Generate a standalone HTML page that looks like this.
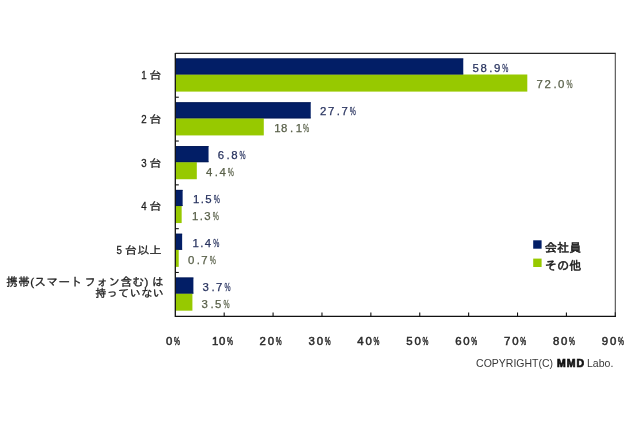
<!DOCTYPE html>
<html lang="ja"><head><meta charset="utf-8"><title>chart</title>
<style>
html,body{margin:0;padding:0;background:#fff;}
body{width:640px;height:426px;overflow:hidden;position:relative;}
svg{position:absolute;left:0;top:0;display:block;}
.num{font-family:"Liberation Sans","IPAGothic",sans-serif;font-size:11.4px;}
.cat{font-family:"Liberation Sans","IPAGothic","Noto Sans CJK JP",sans-serif;font-size:12px;fill:#1c1c1c;stroke:#1c1c1c;stroke-width:0.3px;}
.dg{font-size:11.4px;}
.leg{font-family:"Liberation Sans","IPAGothic","Noto Sans CJK JP",sans-serif;font-size:12.2px;fill:#1c1c1c;stroke:#1c1c1c;stroke-width:0.5px;}
.ax{fill:#2b2b2b;stroke:#2b2b2b;stroke-width:0.5px;}
.nv{fill:#28335f;stroke:#28335f;stroke-width:0.25px;}
.gr{fill:#596049;stroke:#596049;stroke-width:0.25px;}
.cp{font-family:"Liberation Sans",sans-serif;font-size:10.5px;fill:#383838;}
.mmd{font-family:"Liberation Sans",sans-serif;font-weight:bold;font-size:10.5px;fill:#111;stroke:#111;stroke-width:0.7px;letter-spacing:1.1px;}
</style></head><body>
<svg width="640" height="426" viewBox="0 0 640 426">
<rect x="0" y="0" width="640" height="426" fill="#ffffff"/>
<rect x="175.30" y="58.50" width="287.96" height="16.00" fill="#021e66"/>
<rect x="175.30" y="74.50" width="352.00" height="17.10" fill="#97c900"/>
<path d="M175.30 58.90 h287.96 M175.30 74.10 h287.96" stroke="#011750" stroke-width="0.8" fill="none"/>
<text class="num nv" x="472.46 480.56 489.36 493.96" y="71.60">58.9</text><text class="num nv" transform="translate(502.36 71.60) scale(0.6 1)">%</text>
<text class="num gr" x="536.50 544.60 553.40 558.00" y="88.45">72.0</text><text class="num gr" transform="translate(566.40 88.45) scale(0.6 1)">%</text>
<text class="cat dg" transform="translate(141.30 78.91) scale(0.85 1)">1</text>
<text class="cat" transform="translate(161.8 78.91) scale(1 0.9)" text-anchor="end" style="letter-spacing:0.3px">台</text>
<rect x="175.30" y="102.32" width="135.42" height="16.00" fill="#021e66"/>
<rect x="175.30" y="118.32" width="88.49" height="17.10" fill="#97c900"/>
<path d="M175.30 102.72 h135.42 M175.30 117.92 h135.42" stroke="#011750" stroke-width="0.8" fill="none"/>
<text class="num nv" x="319.92 328.02 336.82 341.42" y="115.42">27.7</text><text class="num nv" transform="translate(349.82 115.42) scale(0.6 1)">%</text>
<text class="num gr" x="274.19 281.09 289.89 295.69" y="132.27">18.1</text><text class="num gr" transform="translate(302.89 132.27) scale(0.6 1)">%</text>
<text class="cat dg" transform="translate(141.30 122.72) scale(0.85 1)">2</text>
<text class="cat" transform="translate(161.8 122.72) scale(1 0.9)" text-anchor="end" style="letter-spacing:0.3px">台</text>
<rect x="175.30" y="146.13" width="33.24" height="16.00" fill="#021e66"/>
<rect x="175.30" y="162.13" width="21.51" height="17.10" fill="#97c900"/>
<path d="M175.30 146.53 h33.24 M175.30 161.73 h33.24" stroke="#011750" stroke-width="0.8" fill="none"/>
<text class="num nv" x="217.74 226.54 231.14" y="159.23">6.8</text><text class="num nv" transform="translate(239.54 159.23) scale(0.6 1)">%</text>
<text class="num gr" x="206.01 214.81 219.41" y="176.08">4.4</text><text class="num gr" transform="translate(227.81 176.08) scale(0.6 1)">%</text>
<text class="cat dg" transform="translate(141.30 166.54) scale(0.85 1)">3</text>
<text class="cat" transform="translate(161.8 166.54) scale(1 0.9)" text-anchor="end" style="letter-spacing:0.3px">台</text>
<rect x="175.30" y="189.95" width="7.33" height="16.00" fill="#021e66"/>
<rect x="175.30" y="205.95" width="6.36" height="17.10" fill="#97c900"/>
<path d="M175.30 190.35 h7.33 M175.30 205.55 h7.33" stroke="#011750" stroke-width="0.8" fill="none"/>
<text class="num nv" x="193.03 200.63 205.23" y="203.05">1.5</text><text class="num nv" transform="translate(213.63 203.05) scale(0.6 1)">%</text>
<text class="num gr" x="192.06 199.66 204.26" y="219.90">1.3</text><text class="num gr" transform="translate(212.66 219.90) scale(0.6 1)">%</text>
<text class="cat dg" transform="translate(141.30 210.36) scale(0.85 1)">4</text>
<text class="cat" transform="translate(161.8 210.36) scale(1 0.9)" text-anchor="end" style="letter-spacing:0.3px">台</text>
<rect x="175.30" y="233.77" width="6.84" height="16.00" fill="#021e66"/>
<rect x="175.30" y="249.77" width="3.42" height="17.10" fill="#97c900"/>
<path d="M175.30 234.17 h6.84 M175.30 249.37 h6.84" stroke="#011750" stroke-width="0.8" fill="none"/>
<text class="num nv" x="192.54 200.14 204.74" y="246.87">1.4</text><text class="num nv" transform="translate(213.14 246.87) scale(0.6 1)">%</text>
<text class="num gr" x="187.92 196.72 201.32" y="263.72">0.7</text><text class="num gr" transform="translate(209.72 263.72) scale(0.6 1)">%</text>
<text class="cat dg" transform="translate(116.60 254.18) scale(0.85 1)">5</text>
<text class="cat" transform="translate(161.8 254.18) scale(1 0.9)" text-anchor="end" style="letter-spacing:0.3px">台以上</text>
<rect x="175.30" y="277.58" width="18.09" height="16.00" fill="#021e66"/>
<rect x="175.30" y="293.58" width="17.11" height="17.10" fill="#97c900"/>
<path d="M175.30 277.98 h18.09 M175.30 293.18 h18.09" stroke="#011750" stroke-width="0.8" fill="none"/>
<text class="num nv" x="202.59 211.39 215.99" y="290.68">3.7</text><text class="num nv" transform="translate(224.39 290.68) scale(0.6 1)">%</text>
<text class="num gr" x="201.61 210.41 215.01" y="307.53">3.5</text><text class="num gr" transform="translate(223.41 307.53) scale(0.6 1)">%</text>
<text class="cat" x="163.9" y="285.9" text-anchor="end" style="font-size:11.5px;letter-spacing:0.5px;word-spacing:-1.6px">携帯(スマート フォン含む)<tspan dx="3">は</tspan></text>
<text class="cat" x="164.2" y="297.3" text-anchor="end" style="font-size:11px;letter-spacing:0.5px">持っていない</text>
<path d="M175.30 53.40 H615.80" fill="none" stroke="#262626" stroke-width="1.1"/>
<path d="M615.30 53.40 V316.30" fill="none" stroke="#444" stroke-width="1.05"/>
<path d="M615.30 312.30 V316.90" fill="none" stroke="#222" stroke-width="1.1"/>
<path d="M175.30 52.90 V316.30 H615.90" fill="none" stroke="#111" stroke-width="1.3"/>
<path d="M175.30 97.22 h3.5" stroke="#111" stroke-width="1.1"/>
<path d="M175.30 141.03 h3.5" stroke="#111" stroke-width="1.1"/>
<path d="M175.30 184.85 h3.5" stroke="#111" stroke-width="1.1"/>
<path d="M175.30 228.67 h3.5" stroke="#111" stroke-width="1.1"/>
<path d="M175.30 272.48 h3.5" stroke="#111" stroke-width="1.1"/>
<text class="num ax" x="165.90" y="344.50">0</text><text class="num ax" transform="translate(173.90 344.50) scale(0.58 1)">%</text>
<path d="M224.19 316.30 v-3.8" stroke="#111" stroke-width="1.1"/>
<text class="num ax" x="211.89 218.89" y="344.50">10</text><text class="num ax" transform="translate(226.89 344.50) scale(0.58 1)">%</text>
<path d="M273.08 316.30 v-3.8" stroke="#111" stroke-width="1.1"/>
<text class="num ax" x="259.58 267.78" y="344.50">20</text><text class="num ax" transform="translate(275.78 344.50) scale(0.58 1)">%</text>
<path d="M321.97 316.30 v-3.8" stroke="#111" stroke-width="1.1"/>
<text class="num ax" x="308.47 316.67" y="344.50">30</text><text class="num ax" transform="translate(324.67 344.50) scale(0.58 1)">%</text>
<path d="M370.86 316.30 v-3.8" stroke="#111" stroke-width="1.1"/>
<text class="num ax" x="357.36 365.56" y="344.50">40</text><text class="num ax" transform="translate(373.56 344.50) scale(0.58 1)">%</text>
<path d="M419.74 316.30 v-3.8" stroke="#111" stroke-width="1.1"/>
<text class="num ax" x="406.24 414.44" y="344.50">50</text><text class="num ax" transform="translate(422.44 344.50) scale(0.58 1)">%</text>
<path d="M468.63 316.30 v-3.8" stroke="#111" stroke-width="1.1"/>
<text class="num ax" x="455.13 463.33" y="344.50">60</text><text class="num ax" transform="translate(471.33 344.50) scale(0.58 1)">%</text>
<path d="M517.52 316.30 v-3.8" stroke="#111" stroke-width="1.1"/>
<text class="num ax" x="504.02 512.22" y="344.50">70</text><text class="num ax" transform="translate(520.22 344.50) scale(0.58 1)">%</text>
<path d="M566.41 316.30 v-3.8" stroke="#111" stroke-width="1.1"/>
<text class="num ax" x="552.91 561.11" y="344.50">80</text><text class="num ax" transform="translate(569.11 344.50) scale(0.58 1)">%</text>
<text class="num ax" x="601.80 610.00" y="344.50">90</text><text class="num ax" transform="translate(618.00 344.50) scale(0.58 1)">%</text>
<rect x="533.2" y="240.3" width="8.4" height="8.4" fill="#021e66"/>
<rect x="533.2" y="258.6" width="8.4" height="8.4" fill="#97c900"/>
<text class="leg" x="544.8" y="251.5">会社員</text>
<text class="leg" x="544.8" y="269.5">その他</text>
<text class="cp" x="476.1" y="366.9">COPYRIGHT(C) <tspan class="mmd" dx="0.9">MMD</tspan><tspan dx="-1.2"> Labo.</tspan></text>
</svg></body></html>
